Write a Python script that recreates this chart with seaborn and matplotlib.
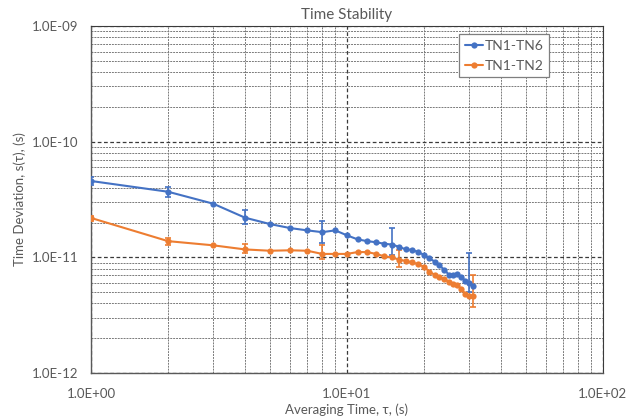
import numpy as np
import pandas as pd
import matplotlib
matplotlib.use("Agg")
import matplotlib.pyplot as plt
from matplotlib.ticker import LogLocator, FuncFormatter, NullFormatter
import seaborn as sns

# Averaging times (s)
tau = list(range(1, 32))

# Time deviation, TN1-TN6 (s)
tdev_tn6 = [4.57e-11, 3.69e-11, 2.91e-11, 2.20e-11, 1.94e-11, 1.79e-11, 1.71e-11, 1.65e-11,
            1.71e-11, 1.55e-11, 1.43e-11, 1.38e-11, 1.35e-11, 1.31e-11, 1.29e-11, 1.23e-11,
            1.17e-11, 1.16e-11, 1.11e-11, 1.05e-11, 9.8e-12, 9.2e-12, 8.5e-12, 7.8e-12,
            7.1e-12, 7.1e-12, 7.2e-12, 6.7e-12, 6.3e-12, 5.97e-12, 5.7e-12]

# Time deviation, TN1-TN2 (s)
tdev_tn2 = [2.19e-11, 1.38e-11, 1.27e-11, 1.17e-11, 1.14e-11, 1.15e-11, 1.14e-11, 1.07e-11,
            1.07e-11, 1.07e-11, 1.11e-11, 1.11e-11, 1.07e-11, 1.02e-11, 9.98e-12, 9.55e-12,
            9.3e-12, 9.05e-12, 8.7e-12, 8.3e-12, 7.5e-12, 7.08e-12, 6.76e-12, 6.46e-12,
            6.15e-12, 5.91e-12, 5.73e-12, 5.35e-12, 4.82e-12, 4.63e-12, 4.6e-12]

# Confidence interval bounds at selected averaging times
err_tau_tn6 = [1, 2, 4, 8, 15, 30]
err_lo_tn6 = [4.25e-11, 3.34e-11, 1.94e-11, 1.34e-11, 1.05e-11, 5.0e-12]
err_hi_tn6 = [4.92e-11, 4.08e-11, 2.56e-11, 2.07e-11, 1.80e-11, 1.08e-11]

err_tau_tn2 = [1, 2, 4, 8, 16, 31]
err_lo_tn2 = [2.07e-11, 1.28e-11, 1.08e-11, 9.7e-12, 8.3e-12, 3.7e-12]
err_hi_tn2 = [2.29e-11, 1.48e-11, 1.30e-11, 1.27e-11, 1.16e-11, 7.0e-12]

series_names = ["TN1-TN6", "TN1-TN2"]
colors = {"TN1-TN6": "#4472C4", "TN1-TN2": "#ED7D31"}

df = pd.DataFrame({
    "tau": tau * 2,
    "tdev": tdev_tn6 + tdev_tn2,
    "pair": [series_names[0]] * len(tau) + [series_names[1]] * len(tau),
})

sns.set_style("white")
plt.rcParams["font.family"] = ["Lato", "DejaVu Sans"]
text_color = "#595959"

fig = plt.figure(figsize=(6.26, 4.18), dpi=100)
ax = fig.add_axes([0.1454, 0.1077, 0.963 - 0.1454, 0.9378 - 0.1077])

ax.set_xscale("log")
ax.set_yscale("log")

# Gridlines at every decade subdivision
ax.xaxis.set_major_locator(LogLocator(base=10, numticks=10))
ax.yaxis.set_major_locator(LogLocator(base=10, numticks=10))
ax.xaxis.set_minor_locator(LogLocator(base=10, subs=np.arange(2, 10), numticks=20))
ax.yaxis.set_minor_locator(LogLocator(base=10, subs=np.arange(2, 10), numticks=20))
ax.grid(which="major", color="#3a3a3a", linestyle=(0, (3, 2)), linewidth=0.9)
ax.grid(which="minor", color="#7a7a7a", linestyle=(0, (2, 1)), linewidth=0.7)

for tt, lo, hi, name in [(err_tau_tn6, err_lo_tn6, err_hi_tn6, "TN1-TN6"),
                         (err_tau_tn2, err_lo_tn2, err_hi_tn2, "TN1-TN2")]:
    centers = df[(df["pair"] == name) & (df["tau"].isin(tt))].set_index("tau").loc[tt, "tdev"].values
    ax.errorbar(tt, centers,
                yerr=[centers - np.array(lo), np.array(hi) - centers],
                fmt="none", ecolor=colors[name], elinewidth=1.2, capsize=2.5,
                capthick=1.2, zorder=3)

sns.lineplot(data=df, x="tau", y="tdev", hue="pair", hue_order=series_names,
             palette=colors, marker="o", markersize=4.5, markeredgewidth=0,
             linewidth=1.5, ax=ax, zorder=4)

ax.set_xlim(1, 100)
ax.set_ylim(1e-12, 1e-9)

def sci_fmt(v, pos):
    e = int(np.round(np.log10(v)))
    sign = "+" if e >= 0 else "-"
    return f"1.0E{sign}{abs(e):02d}"

ax.xaxis.set_major_formatter(FuncFormatter(sci_fmt))
ax.yaxis.set_major_formatter(FuncFormatter(sci_fmt))
ax.xaxis.set_minor_formatter(NullFormatter())
ax.yaxis.set_minor_formatter(NullFormatter())
ax.tick_params(which="both", length=0, labelsize=9.5, colors=text_color)
ax.tick_params(axis="x", pad=11)
ax.tick_params(axis="y", pad=9)

for side in ["left", "bottom"]:
    ax.spines[side].set_color("#595959")
    ax.spines[side].set_linewidth(1.0)
for side in ["top", "right"]:
    ax.spines[side].set_color("#3a3a3a")
    ax.spines[side].set_linewidth(0.8)

ax.set_title("Time Stability", fontsize=11, color=text_color, pad=5)
ax.set_xlabel("Averaging Time, \u03c4, (s)", fontsize=9.5, color=text_color, labelpad=2)
ax.set_ylabel("Time Deviation, s(\u03c4), (s)", fontsize=9.5, color=text_color, labelpad=4)

handles, labels = ax.get_legend_handles_labels()
leg = ax.legend(handles, labels, loc="upper right", bbox_to_anchor=(0.895, 0.977),
                borderaxespad=0, fontsize=10, frameon=True, fancybox=False,
                framealpha=1, edgecolor="#7f7f7f", handlelength=1.3,
                labelspacing=0.6, borderpad=0.4, handletextpad=0.15,
                labelcolor=text_color)
leg.get_frame().set_linewidth(0.9)

fig.savefig("out.png", dpi=100, facecolor="white")
